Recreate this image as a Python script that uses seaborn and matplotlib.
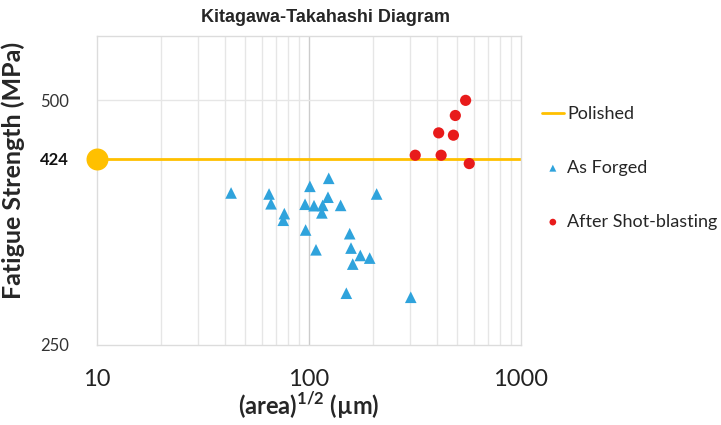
import matplotlib.pyplot as plt
import matplotlib.ticker as mticker
import seaborn as sns
import pandas as pd

sns.set_style("white")
plt.rcParams['font.family'] = ['Lato', 'DejaVu Sans']
plt.rcParams['mathtext.fontset'] = 'custom'
plt.rcParams['mathtext.bf'] = 'Lato:bold'
plt.rcParams['mathtext.rm'] = 'Lato'

# As Forged
forged_x = [42.9, 64.8, 66.2, 76.5, 75.6, 101, 95.8, 105.6, 116, 115, 122.9, 123.9,
            141, 96.4, 107.9, 208.5, 155.6, 157.8, 174.6, 193.3, 160.8, 150, 302]
forged_y = [384.6, 383.5, 373, 362.7, 356, 391.9, 372.5, 371, 371.3, 363.5, 380, 400.9,
            371.3, 346.3, 327.4, 383.5, 342.7, 329, 322.2, 319.8, 314.4, 289.5, 286.2]

# After Shot-blasting
shot_x = [548, 490, 409, 480, 317, 420, 570]
shot_y = [500, 479, 456, 453, 428, 428, 418]

# Polished
polished_x = [10, 1000]
polished_y = [424, 424]

y_ticks = [250, 424, 500]
x_ticks = [10, 100, 1000]

df_forged = pd.DataFrame({"x": forged_x, "y": forged_y})
df_shot = pd.DataFrame({"x": shot_x, "y": shot_y})

fig = plt.figure(figsize=(7.21, 4.25), dpi=100)
ax = fig.add_axes([97 / 721, 1 - 345 / 425, (521 - 97) / 721, (345 - 36) / 425])

ax.set_xscale('log')
ax.set_yscale('log')
ax.set_xlim(10, 1000)
ax.set_ylim(250, 600)

# grid: vertical lines on every minor/major decade step, horizontal only at 500
for v in [20, 30, 40, 50, 60, 70, 80, 90, 200, 300, 400, 500, 600, 700, 800, 900]:
    ax.axvline(v, color='#e6e6e6', lw=1, zorder=0)
ax.axvline(100, color='#cccccc', lw=1, zorder=0)
ax.axhline(500, color='#e6e6e6', lw=1, zorder=0)

ax.plot(polished_x, polished_y, color='#FFC000', lw=2, label='Polished', zorder=2)
ax.scatter(polished_x[:1], polished_y[:1], s=220, color='#FFC000', zorder=5, clip_on=False)

sns.scatterplot(data=df_forged, x='x', y='y', marker='^', s=70, color='#2FA3DC',
                edgecolor='none', label='As Forged', ax=ax, zorder=3)
sns.scatterplot(data=df_shot, x='x', y='y', marker='o', s=65, color='#E81B1B',
                edgecolor='none', label='After Shot-blasting', ax=ax, zorder=4)

for spine in ax.spines.values():
    spine.set_color('#dcdcdc')
    spine.set_linewidth(1)

ax.xaxis.set_major_locator(mticker.FixedLocator(x_ticks))
ax.xaxis.set_major_formatter(mticker.FixedFormatter([str(t) for t in x_ticks]))
ax.xaxis.set_minor_locator(mticker.NullLocator())
ax.yaxis.set_major_locator(mticker.FixedLocator(y_ticks))
ax.yaxis.set_major_formatter(mticker.FixedFormatter([str(t) for t in y_ticks]))
ax.yaxis.set_minor_locator(mticker.NullLocator())
ax.tick_params(axis='x', length=0, labelsize=17, pad=17, labelcolor='#222222')
ax.tick_params(axis='y', length=0, labelsize=12, pad=20, labelcolor='#333333')
for lbl in ax.get_yticklabels():
    if lbl.get_text() == '424':
        lbl.set_fontweight('bold')
        lbl.set_color('#111111')

ax.set_xlabel(r'(area)$^{\mathbf{1/2}}$ (µm)', fontsize=17, fontweight='bold', labelpad=0)
ax.set_ylabel('Fatigue Strength (MPa)', fontsize=18, fontweight='bold')
ax.yaxis.set_label_coords(-0.17, 0.566)
ax.set_title('Kitagawa-Takahashi Diagram', fontsize=13, fontweight='bold',
             family='Liberation Sans', pad=10, x=(326 - 97) / 424)

leg = ax.legend(loc='upper left', bbox_to_anchor=(542 / 721, 1 - 106 / 425),
                bbox_transform=fig.transFigure, frameon=False, fontsize=13,
                labelspacing=2.1, handlelength=1.2, handletextpad=0.2,
                borderpad=0, borderaxespad=0, markerscale=0.6)

fig.savefig('out.png', dpi=100)
